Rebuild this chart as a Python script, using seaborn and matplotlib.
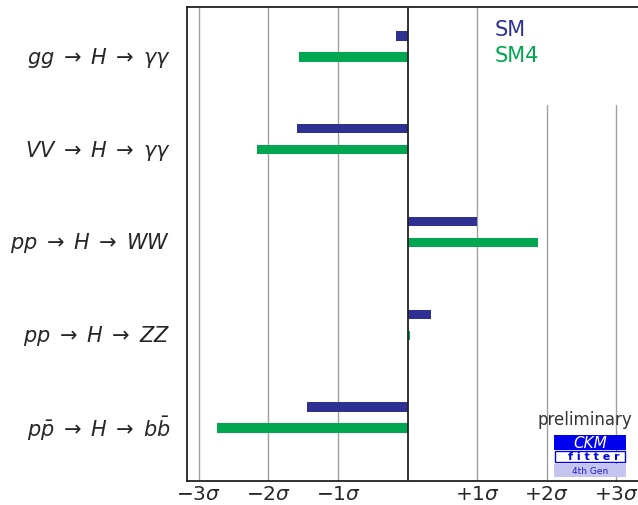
import numpy as np
import pandas as pd
import matplotlib.pyplot as plt
import matplotlib.patches as mpatches
import seaborn as sns

channels = [r"$gg \;\rightarrow\; H \;\rightarrow\; \gamma\gamma$",
            r"$VV \;\rightarrow\; H \;\rightarrow\; \gamma\gamma$",
            r"$pp \;\rightarrow\; H \;\rightarrow\; WW$",
            r"$pp \;\rightarrow\; H \;\rightarrow\; ZZ$",
            r"$p\bar{p} \;\rightarrow\; H \;\rightarrow\; b\bar{b}$"]
sm_values = [-0.16, -1.59, 0.99, 0.34, -1.45]
sm4_values = [-1.56, -2.17, 1.88, 0.04, -2.74]
models = ["SM", "SM4"]
colors = ["#2e3192", "#00a650"]
xtick_pos = [-3, -2, -1, 1, 2, 3]
xtick_labels = [r"$-3\sigma$", r"$-2\sigma$", r"$-1\sigma$",
                r"$+1\sigma$", r"$+2\sigma$", r"$+3\sigma$"]

df = pd.DataFrame({
    "channel": channels * 2,
    "pull": sm_values + sm4_values,
    "model": ["SM"] * len(channels) + ["SM4"] * len(channels),
})

sns.set_style("white")
plt.rcParams["mathtext.fontset"] = "dejavusans"

fig = plt.figure(figsize=(6.38, 5.06), dpi=100)
ax = fig.add_axes([187 / 638, 24 / 506, 451 / 638, 474 / 506])

sns.barplot(data=df, x="pull", y="channel", hue="model", palette=colors,
            orient="h", width=0.454, dodge=True, ax=ax, legend=False,
            saturation=1)

# thin the bars, keep their centres
for p in ax.patches:
    c = p.get_y() + p.get_height() / 2
    p.set_height(0.1)
    p.set_y(c - 0.05)
    p.set_linewidth(0)

# grid lines
for x in [-3, -2, -1, 1]:
    ax.axvline(x, color="#a0a0a0", lw=1, zorder=0)
for x in [2, 3]:
    ax.axvline(x, ymax=0.793, color="#a0a0a0", lw=1, zorder=0)
ax.axvline(0, color="#222222", lw=1.3, zorder=3)

ax.set_xlim(-3.17, 3.31)
ax.set_ylim(4.685, -0.426)
ax.set_xticks(xtick_pos)
ax.set_xticklabels(xtick_labels, fontsize=14.5)
ax.set_yticks(np.arange(len(channels)) + 0.08)
ax.set_yticklabels(channels, fontsize=15)
ax.tick_params(axis="x", length=0, pad=2)
ax.tick_params(axis="y", length=0, pad=12)
ax.set_xlabel("")
ax.set_ylabel("")
for s in ["left", "top", "bottom"]:
    ax.spines[s].set_color("#222222")
    ax.spines[s].set_linewidth(1.3)
ax.spines["right"].set_visible(False)

# legend as coloured text
ax.text(0.683, 0.975, "SM", color=colors[0], fontsize=15, transform=ax.transAxes, va="top")
ax.text(0.683, 0.92, "SM4", color=colors[1], fontsize=15, transform=ax.transAxes, va="top")

# preliminary + CKMfitter badge
fig.text(585 / 638, 1 - 420 / 506, "preliminary", fontsize=12, color="#333333",
         ha="center", va="center")
W, H = 638, 506
fig.patches.append(mpatches.Rectangle((554 / W, 1 - 451 / H), 72 / W, 15 / H,
                                      facecolor="#0000ee", edgecolor="none",
                                      transform=fig.transFigure))
fig.text(590 / W, 1 - 444 / H, "CKM", color="white", fontsize=11, style="italic",
         ha="center", va="center")
fig.patches.append(mpatches.Rectangle((555 / W, 1 - 463 / H), 70 / W, 11 / H,
                                      facecolor="white", edgecolor="#0000ee", lw=1,
                                      transform=fig.transFigure))
fig.text(594 / W, 1 - 457.5 / H, "f i t t e r", color="#0000ee", fontsize=8,
         fontweight="bold", ha="center", va="center")
fig.patches.append(mpatches.Rectangle((554 / W, 1 - 478 / H), 72 / W, 13 / H,
                                      facecolor="#c4c4ee", edgecolor="none",
                                      transform=fig.transFigure))
fig.text(590 / W, 1 - 471.5 / H, "4th Gen", color="#2020cc", fontsize=6.5,
         ha="center", va="center")

fig.savefig("out.png", dpi=100)
